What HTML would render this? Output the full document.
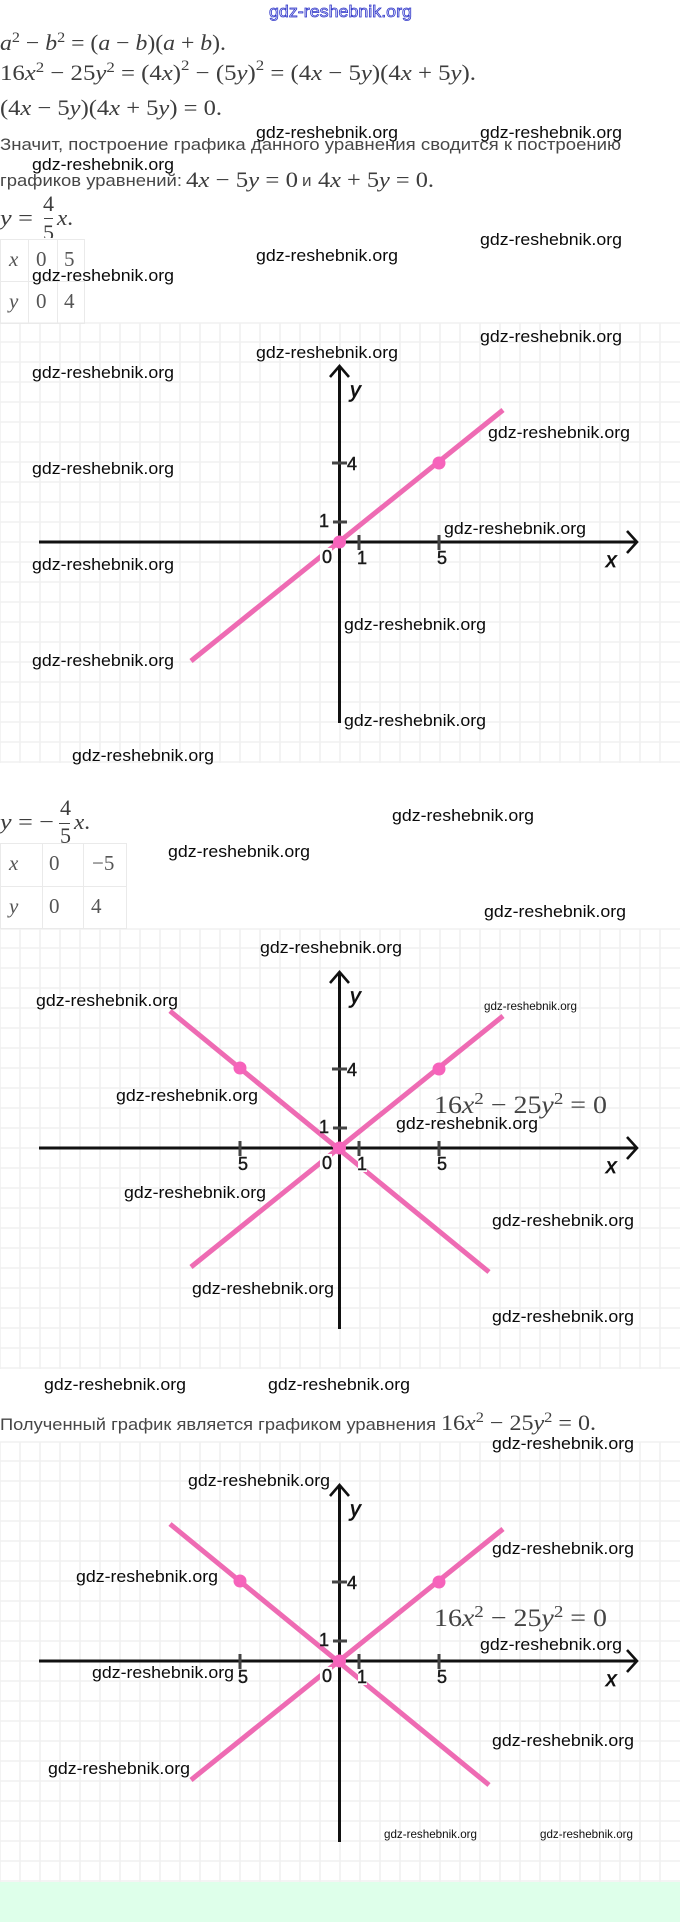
<!DOCTYPE html>
<html lang="ru">
<head>
<meta charset="utf-8">
<title>gdz-reshebnik.org</title>
<style>
html,body{margin:0;padding:0;background:#fff;width:680px;height:1922px;overflow:hidden}
svg{display:block}
.w{font-family:"Liberation Sans",sans-serif;font-size:16.5px;fill:#0a0a0a}
.ws{font-family:"Liberation Sans",sans-serif;font-size:12px;fill:#111}
.m{font-family:"Liberation Serif",serif;font-size:22px;fill:#3d3d3d}
.mb{font-family:"Liberation Serif",serif;font-size:25px;fill:#444}
.i{font-style:italic}
.t{font-family:"Liberation Sans",sans-serif;font-size:17px;fill:#474747}
.n{font-family:"Liberation Sans",sans-serif;font-size:18px;fill:#1a1a1a;stroke:#1a1a1a;stroke-width:.45}
.v{font-family:"Liberation Sans",sans-serif;font-size:21px;font-style:italic;fill:#111;stroke:#111;stroke-width:.7}
.tb{font-family:"Liberation Serif",serif;font-size:21px;fill:#555}
</style>
</head>
<body>
<svg xmlns="http://www.w3.org/2000/svg" width="680" height="1922" viewBox="0 0 680 1922">
<rect width="680" height="1922" fill="#fff"/>

<!-- GRID 1 -->
<g stroke="#f0f0f0" stroke-width="1.6" fill="none">
<path d="M0 323V763M20 323V763M40 323V763M60 323V763M80 323V763M100 323V763M120 323V763M140 323V763M160 323V763M180 323V763M200 323V763M220 323V763M240 323V763M260 323V763M280 323V763M300 323V763M320 323V763M340 323V763M360 323V763M380 323V763M400 323V763M420 323V763M440 323V763M460 323V763M480 323V763M500 323V763M520 323V763M540 323V763M560 323V763M580 323V763M600 323V763M620 323V763M640 323V763M660 323V763"/>
<path d="M0 323H680M0 342H680M0 362H680M0 382H680M0 402H680M0 422H680M0 442H680M0 462H680M0 482H680M0 502H680M0 522H680M0 542H680M0 562H680M0 582H680M0 602H680M0 622H680M0 642H680M0 662H680M0 682H680M0 702H680M0 722H680M0 742H680M0 762H680"/>
</g>
<!-- GRID 2 -->
<g transform="translate(0,606)" stroke="#f0f0f0" stroke-width="1.6" fill="none">
<path d="M0 323V763M20 323V763M40 323V763M60 323V763M80 323V763M100 323V763M120 323V763M140 323V763M160 323V763M180 323V763M200 323V763M220 323V763M240 323V763M260 323V763M280 323V763M300 323V763M320 323V763M340 323V763M360 323V763M380 323V763M400 323V763M420 323V763M440 323V763M460 323V763M480 323V763M500 323V763M520 323V763M540 323V763M560 323V763M580 323V763M600 323V763M620 323V763M640 323V763M660 323V763"/>
<path d="M0 323H680M0 342H680M0 362H680M0 382H680M0 402H680M0 422H680M0 442H680M0 462H680M0 482H680M0 502H680M0 522H680M0 542H680M0 562H680M0 582H680M0 602H680M0 622H680M0 642H680M0 662H680M0 682H680M0 702H680M0 722H680M0 742H680M0 762H680"/>
</g>
<!-- GRID 3 -->
<g transform="translate(0,1119)" stroke="#f0f0f0" stroke-width="1.6" fill="none">
<path d="M0 323V763M20 323V763M40 323V763M60 323V763M80 323V763M100 323V763M120 323V763M140 323V763M160 323V763M180 323V763M200 323V763M220 323V763M240 323V763M260 323V763M280 323V763M300 323V763M320 323V763M340 323V763M360 323V763M380 323V763M400 323V763M420 323V763M440 323V763M460 323V763M480 323V763M500 323V763M520 323V763M540 323V763M560 323V763M580 323V763M600 323V763M620 323V763M640 323V763M660 323V763"/>
<path d="M0 323H680M0 342H680M0 362H680M0 382H680M0 402H680M0 422H680M0 442H680M0 462H680M0 482H680M0 502H680M0 522H680M0 542H680M0 562H680M0 582H680M0 602H680M0 622H680M0 642H680M0 662H680M0 682H680M0 702H680M0 722H680M0 742H680M0 762H680"/>
</g>

<rect x="0" y="1882" width="680" height="40" fill="#deffea"/>

<!-- FORMULAS TOP -->
<text class="m" x="0" y="50" textLength="226" lengthAdjust="spacingAndGlyphs"><tspan class="i">a</tspan><tspan dy="-8" font-size="15">2</tspan><tspan dy="8"> − </tspan><tspan class="i">b</tspan><tspan dy="-8" font-size="15">2</tspan><tspan dy="8"> = (</tspan><tspan class="i">a</tspan> − <tspan class="i">b</tspan>)(<tspan class="i">a</tspan> + <tspan class="i">b</tspan>).</text>
<text class="m" x="0" y="80" textLength="476" lengthAdjust="spacingAndGlyphs">16<tspan class="i">x</tspan><tspan dy="-8" font-size="15">2</tspan><tspan dy="8"> − 25</tspan><tspan class="i">y</tspan><tspan dy="-8" font-size="15">2</tspan><tspan dy="8"> = (4</tspan><tspan class="i">x</tspan>)<tspan dy="-10" font-size="15">2</tspan><tspan dy="10"> − (5</tspan><tspan class="i">y</tspan>)<tspan dy="-10" font-size="15">2</tspan><tspan dy="10"> = (4</tspan><tspan class="i">x</tspan> − 5<tspan class="i">y</tspan>)(4<tspan class="i">x</tspan> + 5<tspan class="i">y</tspan>).</text>
<text class="m" x="0" y="115" textLength="222" lengthAdjust="spacingAndGlyphs">(4<tspan class="i">x</tspan> − 5<tspan class="i">y</tspan>)(4<tspan class="i">x</tspan> + 5<tspan class="i">y</tspan>) = 0.</text>

<text class="t" x="0" y="150" textLength="621" lengthAdjust="spacingAndGlyphs">Значит, построение графика данного уравнения сводится к построению</text>
<text class="t" x="0" y="186" textLength="182" lengthAdjust="spacingAndGlyphs">графиков уравнений:</text>
<text class="m" x="186" y="187" textLength="112" lengthAdjust="spacingAndGlyphs">4<tspan class="i">x</tspan> − 5<tspan class="i">y</tspan> = 0</text>
<text class="t" x="302" y="186">и</text>
<text class="m" x="318" y="187" textLength="116" lengthAdjust="spacingAndGlyphs">4<tspan class="i">x</tspan> + 5<tspan class="i">y</tspan> = 0.</text>

<!-- y = 4/5 x -->
<text class="m" x="0" y="225" textLength="33" lengthAdjust="spacingAndGlyphs"><tspan class="i">y</tspan> =</text>
<text class="m" x="43" y="211">4</text>
<rect x="44" y="218" width="9" height="1" fill="#444"/>
<text class="m" x="43" y="240">5</text>
<text class="m" x="57" y="225" textLength="16" lengthAdjust="spacingAndGlyphs"><tspan class="i">x</tspan>.</text>

<!-- TABLE 1 -->
<rect x="0" y="238" width="84" height="10" fill="#fff"/>
<g stroke="#eaeaea" stroke-width="1" fill="none">
<path d="M.5 239V323M28.5 239V323M57.5 239V323M84.5 239V323M0 239.5H85M0 281.5H85M0 323.5H85"/>
</g>
<text class="tb i" x="9" y="266">x</text>
<text class="tb" x="36" y="266">0</text>
<text class="tb" x="64" y="266">5</text>
<text class="tb i" x="9" y="308">y</text>
<text class="tb" x="36" y="308">0</text>
<text class="tb" x="64" y="308">4</text>

<!-- GRAPH 1 -->
<g>
<path d="M339.5 723V366M39 542H636" stroke="#111" stroke-width="3" fill="none"/>
<path d="M330 377L339.5 366L349 377M627 531L637 542L627 553" stroke="#111" stroke-width="2.6" fill="none"/>
<path d="M332 463H347M333 522H347M359 535V550M439 535V550" stroke="#444" stroke-width="3" fill="none"/>
<path d="M191 661L503 410" stroke="#ee6bb3" stroke-width="5" fill="none"/>
<rect x="320" y="548" width="12" height="17" fill="#fff"/>
<circle cx="439" cy="463" r="6.5" fill="#f663bb"/>
<circle cx="339.5" cy="542" r="6.5" fill="#f663bb"/>
<text class="n" x="347" y="470">4</text>
<text class="n" x="319" y="527">1</text>
<text class="n" x="322" y="563">0</text>
<text class="n" x="357" y="564">1</text>
<text class="n" x="437" y="564">5</text>
<text class="v" x="350" y="397">y</text>
<text class="v" x="606" y="567">x</text>
</g>

<!-- y = -4/5 x -->
<text class="m" x="0" y="829" textLength="54" lengthAdjust="spacingAndGlyphs"><tspan class="i">y</tspan> = −</text>
<text class="m" x="60" y="815">4</text>
<rect x="59" y="823" width="11" height="1" fill="#444"/>
<text class="m" x="60" y="843">5</text>
<text class="m" x="74" y="829" textLength="16" lengthAdjust="spacingAndGlyphs"><tspan class="i">x</tspan>.</text>

<!-- TABLE 2 -->
<g stroke="#eaeaea" stroke-width="1" fill="none">
<path d="M.5 843V928M42.5 843V928M83.5 843V928M126.5 843V928M0 843.5H127M0 886.5H127M0 928.5H127"/>
</g>
<text class="tb i" x="9" y="870">x</text>
<text class="tb" x="49" y="870">0</text>
<text class="tb" x="92" y="870">−5</text>
<text class="tb i" x="9" y="913">y</text>
<text class="tb" x="49" y="913">0</text>
<text class="tb" x="91" y="913">4</text>

<!-- GRAPH 2 -->
<g transform="translate(0,606)">
<path d="M339.5 723V366M39 542H636" stroke="#111" stroke-width="3" fill="none"/>
<path d="M330 377L339.5 366L349 377M627 531L637 542L627 553" stroke="#111" stroke-width="2.6" fill="none"/>
<path d="M332 463H347M333 522H347M359 535V550M439 535V550M240 535V550" stroke="#444" stroke-width="3" fill="none"/>
<path d="M191 661L503 410M170 405L489 666" stroke="#ee6bb3" stroke-width="5" fill="none"/>
<rect x="320" y="548" width="12" height="17" fill="#fff"/>
<rect x="358" y="551" width="9" height="15" fill="#fff"/>
<circle cx="439" cy="463" r="6.5" fill="#f663bb"/>
<circle cx="240" cy="462" r="6.5" fill="#f663bb"/>
<circle cx="339.5" cy="542" r="6.5" fill="#f663bb"/>
<text class="n" x="347" y="470">4</text>
<text class="n" x="319" y="527">1</text>
<text class="n" x="322" y="563">0</text>
<text class="n" x="357" y="564">1</text>
<text class="n" x="437" y="564">5</text>
<text class="n" x="238" y="564">5</text>
<text class="v" x="350" y="397">y</text>
<text class="v" x="606" y="567">x</text>
<text class="mb" x="434" y="507" textLength="173" lengthAdjust="spacingAndGlyphs">16<tspan class="i">x</tspan><tspan dy="-9" font-size="17">2</tspan><tspan dy="9"> − 25</tspan><tspan class="i">y</tspan><tspan dy="-9" font-size="17">2</tspan><tspan dy="9"> = 0</tspan></text>
</g>

<text class="t" x="0" y="1430" textLength="436" lengthAdjust="spacingAndGlyphs">Полученный график является графиком уравнения</text>
<text class="m" x="441" y="1430" textLength="155" lengthAdjust="spacingAndGlyphs">16<tspan class="i">x</tspan><tspan dy="-8" font-size="15">2</tspan><tspan dy="8"> − 25</tspan><tspan class="i">y</tspan><tspan dy="-8" font-size="15">2</tspan><tspan dy="8"> = 0.</tspan></text>

<!-- GRAPH 3 -->
<g transform="translate(0,1119)">
<path d="M339.5 723V366M39 542H636" stroke="#111" stroke-width="3" fill="none"/>
<path d="M330 377L339.5 366L349 377M627 531L637 542L627 553" stroke="#111" stroke-width="2.6" fill="none"/>
<path d="M332 463H347M333 522H347M359 535V550M439 535V550M240 535V550" stroke="#444" stroke-width="3" fill="none"/>
<path d="M191 661L503 410M170 405L489 666" stroke="#ee6bb3" stroke-width="5" fill="none"/>
<rect x="320" y="548" width="12" height="17" fill="#fff"/>
<rect x="358" y="551" width="9" height="15" fill="#fff"/>
<circle cx="439" cy="463" r="6.5" fill="#f663bb"/>
<circle cx="240" cy="462" r="6.5" fill="#f663bb"/>
<circle cx="339.5" cy="542" r="6.5" fill="#f663bb"/>
<text class="n" x="347" y="470">4</text>
<text class="n" x="319" y="527">1</text>
<text class="n" x="322" y="563">0</text>
<text class="n" x="357" y="564">1</text>
<text class="n" x="437" y="564">5</text>
<text class="n" x="238" y="564">5</text>
<text class="v" x="350" y="397">y</text>
<text class="v" x="606" y="567">x</text>
<text class="mb" x="434" y="507" textLength="173" lengthAdjust="spacingAndGlyphs">16<tspan class="i">x</tspan><tspan dy="-9" font-size="17">2</tspan><tspan dy="9"> − 25</tspan><tspan class="i">y</tspan><tspan dy="-9" font-size="17">2</tspan><tspan dy="9"> = 0</tspan></text>
</g>

<!-- WATERMARKS -->
<text x="269" y="17" textLength="143" lengthAdjust="spacingAndGlyphs" font-family="Liberation Sans, sans-serif" font-size="17" fill="#dfe2fb" stroke="#2f35c8" stroke-width=".75">gdz-reshebnik.org</text>
<g transform="translate(0,-1)">
<text class="w" x="256" y="139" textLength="142" lengthAdjust="spacingAndGlyphs">gdz-reshebnik.org</text>
<text class="w" x="480" y="139" textLength="142" lengthAdjust="spacingAndGlyphs">gdz-reshebnik.org</text>
<text class="w" x="32" y="171" textLength="142" lengthAdjust="spacingAndGlyphs">gdz-reshebnik.org</text>
<text class="w" x="480" y="246" textLength="142" lengthAdjust="spacingAndGlyphs">gdz-reshebnik.org</text>
<text class="w" x="256" y="262" textLength="142" lengthAdjust="spacingAndGlyphs">gdz-reshebnik.org</text>
<text class="w" x="32" y="282" textLength="142" lengthAdjust="spacingAndGlyphs">gdz-reshebnik.org</text>
<text class="w" x="480" y="343" textLength="142" lengthAdjust="spacingAndGlyphs">gdz-reshebnik.org</text>
<text class="w" x="256" y="359" textLength="142" lengthAdjust="spacingAndGlyphs">gdz-reshebnik.org</text>
<text class="w" x="32" y="379" textLength="142" lengthAdjust="spacingAndGlyphs">gdz-reshebnik.org</text>
<text class="w" x="488" y="439" textLength="142" lengthAdjust="spacingAndGlyphs">gdz-reshebnik.org</text>
<text class="w" x="32" y="475" textLength="142" lengthAdjust="spacingAndGlyphs">gdz-reshebnik.org</text>
<text class="w" x="444" y="535" textLength="142" lengthAdjust="spacingAndGlyphs">gdz-reshebnik.org</text>
<text class="w" x="32" y="571" textLength="142" lengthAdjust="spacingAndGlyphs">gdz-reshebnik.org</text>
<text class="w" x="344" y="631" textLength="142" lengthAdjust="spacingAndGlyphs">gdz-reshebnik.org</text>
<text class="w" x="32" y="667" textLength="142" lengthAdjust="spacingAndGlyphs">gdz-reshebnik.org</text>
<text class="w" x="344" y="727" textLength="142" lengthAdjust="spacingAndGlyphs">gdz-reshebnik.org</text>
<text class="w" x="72" y="762" textLength="142" lengthAdjust="spacingAndGlyphs">gdz-reshebnik.org</text>
<text class="w" x="392" y="822" textLength="142" lengthAdjust="spacingAndGlyphs">gdz-reshebnik.org</text>
<text class="w" x="168" y="858" textLength="142" lengthAdjust="spacingAndGlyphs">gdz-reshebnik.org</text>
<text class="w" x="484" y="918" textLength="142" lengthAdjust="spacingAndGlyphs">gdz-reshebnik.org</text>
<text class="w" x="260" y="954" textLength="142" lengthAdjust="spacingAndGlyphs">gdz-reshebnik.org</text>
<text class="w" x="36" y="1007" textLength="142" lengthAdjust="spacingAndGlyphs">gdz-reshebnik.org</text>
<text class="ws" x="484" y="1011" textLength="93" lengthAdjust="spacingAndGlyphs">gdz-reshebnik.org</text>
<text class="w" x="116" y="1102" textLength="142" lengthAdjust="spacingAndGlyphs">gdz-reshebnik.org</text>
<text class="w" x="396" y="1130" textLength="142" lengthAdjust="spacingAndGlyphs">gdz-reshebnik.org</text>
<text class="w" x="124" y="1199" textLength="142" lengthAdjust="spacingAndGlyphs">gdz-reshebnik.org</text>
<text class="w" x="492" y="1227" textLength="142" lengthAdjust="spacingAndGlyphs">gdz-reshebnik.org</text>
<text class="w" x="192" y="1295" textLength="142" lengthAdjust="spacingAndGlyphs">gdz-reshebnik.org</text>
<text class="w" x="492" y="1323" textLength="142" lengthAdjust="spacingAndGlyphs">gdz-reshebnik.org</text>
<text class="w" x="44" y="1391" textLength="142" lengthAdjust="spacingAndGlyphs">gdz-reshebnik.org</text>
<text class="w" x="268" y="1391" textLength="142" lengthAdjust="spacingAndGlyphs">gdz-reshebnik.org</text>
<text class="w" x="492" y="1450" textLength="142" lengthAdjust="spacingAndGlyphs">gdz-reshebnik.org</text>
<text class="w" x="188" y="1487" textLength="142" lengthAdjust="spacingAndGlyphs">gdz-reshebnik.org</text>
<text class="w" x="492" y="1555" textLength="142" lengthAdjust="spacingAndGlyphs">gdz-reshebnik.org</text>
<text class="w" x="76" y="1583" textLength="142" lengthAdjust="spacingAndGlyphs">gdz-reshebnik.org</text>
<text class="w" x="480" y="1651" textLength="142" lengthAdjust="spacingAndGlyphs">gdz-reshebnik.org</text>
<text class="w" x="92" y="1679" textLength="142" lengthAdjust="spacingAndGlyphs">gdz-reshebnik.org</text>
<text class="w" x="492" y="1747" textLength="142" lengthAdjust="spacingAndGlyphs">gdz-reshebnik.org</text>
<text class="w" x="48" y="1775" textLength="142" lengthAdjust="spacingAndGlyphs">gdz-reshebnik.org</text>
<text class="ws" x="384" y="1839" textLength="93" lengthAdjust="spacingAndGlyphs">gdz-reshebnik.org</text>
<text class="ws" x="540" y="1839" textLength="93" lengthAdjust="spacingAndGlyphs">gdz-reshebnik.org</text>
</g>
</svg>
</body>
</html>
